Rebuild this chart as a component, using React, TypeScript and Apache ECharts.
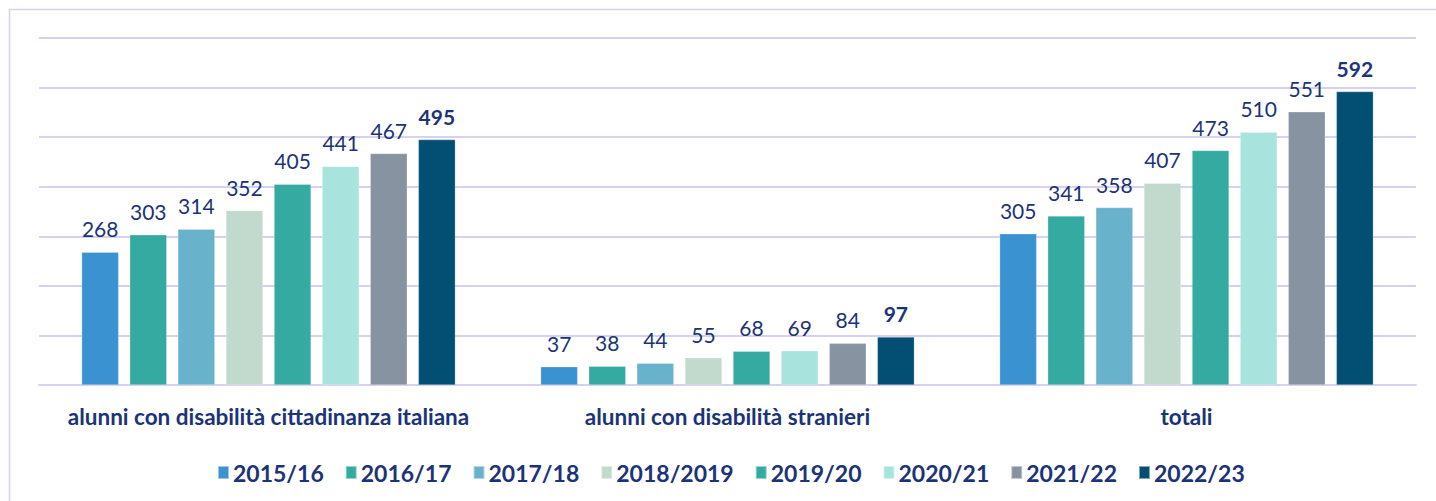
import React, { useEffect, useRef } from "react";
import * as echarts from "echarts";

const categories = [
  "alunni con disabilità cittadinanza italiana",
  "alunni con disabilità stranieri",
  "totali",
];
const years = ["2015/16", "2016/17", "2017/18", "2018/2019", "2019/20", "2020/21", "2021/22", "2022/23"];
const values2015 = [268, 37, 305];
const values2016 = [303, 38, 341];
const values2017 = [314, 44, 358];
const values2018 = [352, 55, 407];
const values2019 = [405, 68, 473];
const values2020 = [441, 69, 510];
const values2021 = [467, 84, 551];
const values2022 = [495, 97, 592];
const seriesValues = [values2015, values2016, values2017, values2018, values2019, values2020, values2021, values2022];
const colors = ["#3a93d0", "#35aaa0", "#68b2cb", "#c2d9cd", "#35aaa0", "#a8e3de", "#8793a0", "#034f73"];

const FONT = "Lato, 'Noto Sans', sans-serif";
const NAVY = "#1b3378";
const GRID = "#d6d1ef";

export default function App() {
  const ref = useRef<HTMLDivElement>(null);
  useEffect(() => {
    if (!ref.current) return;
    const chart = echarts.init(ref.current, null, { renderer: "svg" });
    chart.setOption({
      animation: false,
      graphic: [
        {
          type: "rect",
          shape: { x: 9.5, y: 9.5, width: 1450, height: 520 },
          style: { fill: "none", stroke: GRID, lineWidth: 1.5 },
          silent: true,
          z: -1,
        },
      ],
      legend: {
        left: 212,
        top: 456,
        itemWidth: 11,
        itemHeight: 13,
        itemGap: 21,
        icon: "rect",
        textStyle: { fontFamily: FONT, fontWeight: "bold", fontSize: 23, color: NAVY, padding: [0, 0, 0, -1] },
        data: years,
      },
      grid: { left: 39, right: 20, top: 38, bottom: 116 },
      xAxis: {
        type: "category",
        data: categories,
        axisLine: { lineStyle: { color: GRID, width: 2 } },
        axisTick: { show: false },
        axisLabel: { interval: 0, fontFamily: FONT, fontWeight: "bold", fontSize: 22.5, color: NAVY, margin: 20 },
      },
      yAxis: {
        type: "value",
        min: 0,
        max: 700,
        interval: 100,
        axisLabel: { show: false },
        axisLine: { show: false },
        axisTick: { show: false },
        splitLine: { lineStyle: { color: GRID, width: 2 } },
      },
      series: years.map((y, i) => ({
        type: "bar",
        name: y,
        data: seriesValues[i],
        barWidth: 37,
        barGap: "30%",
        itemStyle: { color: colors[i], borderColor: "rgba(255,255,255,0.5)", borderWidth: 0.5 },
        label: {
          show: true,
          position: "top",
          distance: 13,
          fontFamily: FONT,
          fontSize: 21,
          fontWeight: i === 7 ? "bold" : "normal",
          color: NAVY,
        },
      })),
    });
    return () => chart.dispose();
  }, []);
  return <div ref={ref} style={{ position: "fixed", left: 0, top: 0, width: 1436, height: 501, background: "#fff" }} />;
}
